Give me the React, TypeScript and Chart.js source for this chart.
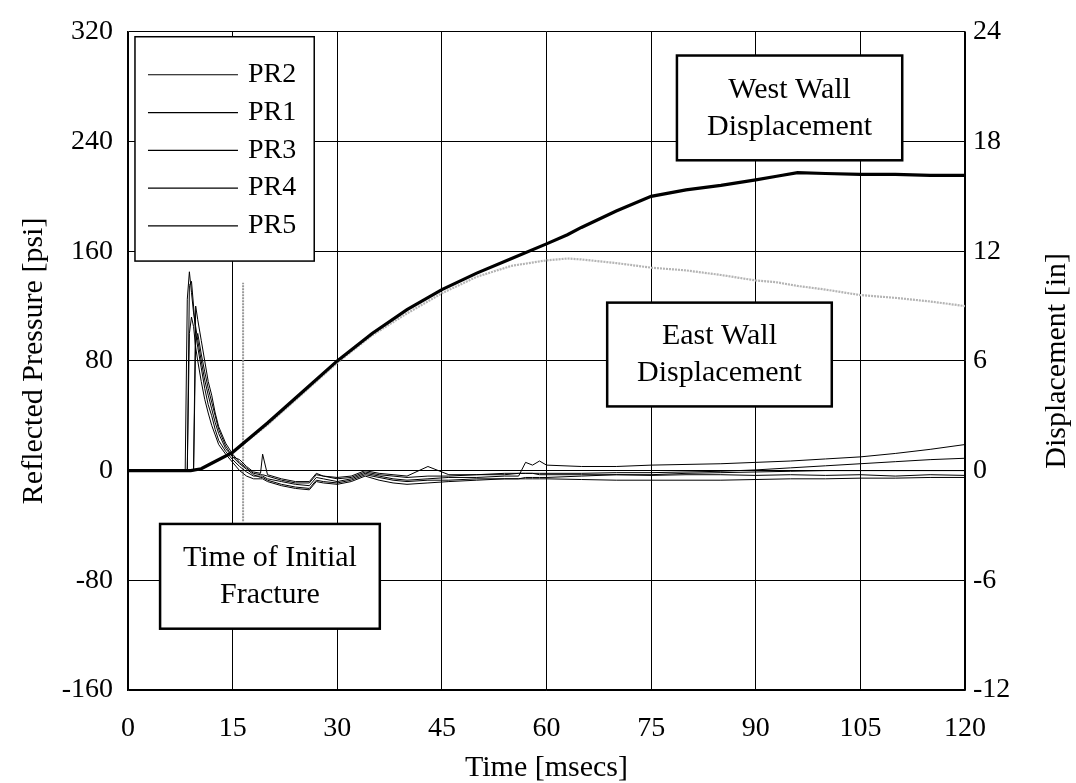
import React, { useEffect, useRef } from 'react';
import { Chart, registerables } from 'chart.js';

Chart.register(...registerables);

const FONT = '"Liberation Serif", "Times New Roman", Times, serif';

// ---- tick labels ----
const timeTicks = [0, 15, 30, 45, 60, 75, 90, 105, 120];
const pressureTicks = [-160, -80, 0, 80, 160, 240, 320];
const dispTicks = [-12, -6, 0, 6, 12, 18, 24];

// ---- pressure gauges (time in msecs, pressure in psi) ----
const timeP = [
  0, 8.2, 8.5, 8.8, 9.1, 9.4, 9.7, 10, 10.5, 11, 11.5, 12, 12.5, 13, 14, 15, 16, 17, 18,
  19, 19.3, 20, 22, 24, 26, 27, 28, 30, 32, 34, 36, 38, 40, 43, 46, 50, 54, 56,
  57, 58, 59, 60, 65, 70, 75, 80, 85, 90, 95, 100, 105, 110, 115, 120,
];
const pr2 = [
  0, 0, 125, 145, 130, 115, 105, 95, 80, 66, 55, 45, 35, 27, 16, 10, 5, 1, -3,
  -5, -5, -7, -10, -12, -13, -7, -8, -9, -7, -3, -5, -7, -8, -7, -7, -6, -6, -6,
  -6, -6, -6, -6, -6.5, -7, -7, -7, -7, -6.5, -6, -6, -5.5, -5.5, -5, -5,
];
const pr1 = [
  0, 0, 0, 135, 138, 120, 100, 90, 75, 60, 48, 40, 30, 22, 14, 8, 3, -1, -4,
  -4, -4, -6, -8, -10, -11, -5, -6, -8, -6, -2, -4, -6, -7, -6, -5, -5, -4, -4,
  6, 4, 7, 4, 3, 3, 4, 4.5, 5, 6, 7, 8.5, 10, 12.5, 15.5, 19,
];
const pr3 = [
  0, 0, 0, 0, 0, 0, 120, 110, 95, 80, 65, 55, 42, 32, 20, 12, 6, 2, -2,
  -3, -3, -4, -7, -9, -9, -3, -4, -6, -5, -1, -3, -4, -5, -4, -4, -3, -3, -2,
  -2, -2, -2, -2, -2, -1.5, -1.5, -1, -0.5, 0.5, 2, 3.5, 5, 6.5, 8, 9,
];
const pr4 = [
  0, 0, 0, 100, 112, 105, 90, 80, 65, 52, 42, 33, 26, 19, 12, 6, 0, -4, -6,
  -6, -6, -8, -11, -13, -14, -8, -9, -10, -8, -4, -7, -9, -10, -9, -8, -7, -6, -6,
  -5, -5, -5, -5, -4, -3, -3, -2, -1.5, -1, -0.5, 0, 0, 0, 0, 0,
];
const pr5 = [
  0, 0, 0, 0, 0, 0, 95, 100, 85, 72, 60, 50, 40, 30, 18, 10, 8, 3, -1,
  -2, 12, -3, -6, -8, -8, -2, -4, -5, -4, 0, -2, -3, -4, 3, -3, -3, -2, -2,
  -2, -2, -3, -3, -3, -3, -3.5, -3, -3, -3.5, -3, -3.5, -3, -4, -3, -3.5,
];

// ---- wall displacements (time in msecs, displacement in inches) ----
const timeD = [0, 9, 10.5, 12, 15, 20, 25, 30, 35, 40, 45, 50, 55, 60, 63, 65, 70, 75, 80, 85, 90, 93, 96, 100, 105, 110, 115, 120];
const westWall = [0, 0, 0.1, 0.4, 1.0, 2.6, 4.3, 6.0, 7.5, 8.8, 9.9, 10.8, 11.6, 12.4, 12.9, 13.3, 14.2, 15.0, 15.35, 15.6, 15.9, 16.1, 16.3, 16.25, 16.2, 16.2, 16.15, 16.15];
const eastWall = [0, 0, 0.1, 0.4, 1.0, 2.5, 4.2, 5.9, 7.4, 8.6, 9.7, 10.6, 11.2, 11.5, 11.6, 11.55, 11.35, 11.1, 10.95, 10.7, 10.4, 10.3, 10.1, 9.9, 9.6, 9.45, 9.25, 9.0];

// ---- time of initial fracture marker ----
const fractureTime = [16.5, 16.5];
const fracturePsi = [-37, 137];

const pts = (xs: number[], ys: number[]) => xs.map((x, i) => ({ x, y: ys[i] }));

// annotation boxes in data coordinates [xMin, xMax, psiTop, psiBottom]
const boxes = [
  { rect: [78.7, 111.0, 302.7, 226.3], lines: ['West Wall', 'Displacement'] },
  { rect: [68.7, 100.9, 122.5, 46.8], lines: ['East Wall', 'Displacement'] },
  { rect: [4.6, 36.1, -38.9, -115.3], lines: ['Time of Initial', 'Fracture'] },
];
const legendRect = [1.0, 26.7, 316.4, 152.8];
const legendOrder = ['PR2', 'PR1', 'PR3', 'PR4', 'PR5'];

const annotPlugin = {
  id: 'annot',
  afterDatasetsDraw(chart: any) {
    const { ctx, scales } = chart;
    const xs = scales.x;
    const ys = scales.y;
    ctx.save();
    // text boxes
    boxes.forEach((b) => {
      const x1 = xs.getPixelForValue(b.rect[0]);
      const x2 = xs.getPixelForValue(b.rect[1]);
      const y1 = ys.getPixelForValue(b.rect[2]);
      const y2 = ys.getPixelForValue(b.rect[3]);
      ctx.fillStyle = '#fff';
      ctx.fillRect(x1, y1, x2 - x1, y2 - y1);
      ctx.strokeStyle = '#000';
      ctx.lineWidth = 2.5;
      ctx.strokeRect(x1, y1, x2 - x1, y2 - y1);
      ctx.fillStyle = '#000';
      ctx.font = `30px ${FONT}`;
      ctx.textAlign = 'center';
      ctx.textBaseline = 'middle';
      const cx = (x1 + x2) / 2;
      const cy = (y1 + y2) / 2;
      ctx.fillText(b.lines[0], cx, cy - 18);
      ctx.fillText(b.lines[1], cx, cy + 19);
    });
    // legend
    const lx1 = xs.getPixelForValue(legendRect[0]);
    const lx2 = xs.getPixelForValue(legendRect[1]);
    const ly1 = ys.getPixelForValue(legendRect[2]);
    const ly2 = ys.getPixelForValue(legendRect[3]);
    ctx.fillStyle = '#fff';
    ctx.fillRect(lx1, ly1, lx2 - lx1, ly2 - ly1);
    ctx.strokeStyle = '#000';
    ctx.lineWidth = 1.5;
    ctx.strokeRect(lx1, ly1, lx2 - lx1, ly2 - ly1);
    ctx.font = `28px ${FONT}`;
    ctx.textAlign = 'left';
    ctx.textBaseline = 'middle';
    legendOrder.forEach((name, i) => {
      const ds = chart.data.datasets.find((d: any) => d.label === name);
      const y = ly1 + 38 + i * 37.8;
      ctx.strokeStyle = ds ? ds.borderColor : '#000';
      ctx.lineWidth = 1.2;
      ctx.beginPath();
      ctx.moveTo(lx1 + 13, y);
      ctx.lineTo(lx1 + 103, y);
      ctx.stroke();
      ctx.fillStyle = '#000';
      ctx.fillText(name, lx1 + 113, y);
    });
    ctx.restore();
  },
  afterDraw(chart: any) {
    const { ctx, chartArea } = chart;
    ctx.save();
    ctx.fillStyle = '#000';
    ctx.font = `30px ${FONT}`;
    ctx.textAlign = 'center';
    ctx.textBaseline = 'middle';
    ctx.translate(1057, (chartArea.top + chartArea.bottom) / 2);
    ctx.rotate(-Math.PI / 2);
    ctx.fillText('Displacement [in]', 0, 0);
    ctx.restore();
  },
};

export default function App() {
  const ref = useRef<HTMLCanvasElement | null>(null);

  useEffect(() => {
    document.body.style.margin = '0';
    const canvas = ref.current;
    if (!canvas) return;
    const thin = (label: string, ys: number[]) => ({
      label,
      data: pts(timeP, ys),
      yAxisID: 'y',
      borderColor: '#000',
      borderWidth: 1,
      pointRadius: 0,
      tension: 0,
      fill: false,
    });
    const tickFont = { family: FONT, size: 28 };
    const chart = new Chart(canvas, {
      type: 'line',
      data: {
        datasets: [
          {
            label: 'West Wall Displacement',
            data: pts(timeD, westWall),
            yAxisID: 'y2',
            borderColor: '#000',
            borderWidth: 3.2,
            pointRadius: 0,
            tension: 0,
            fill: false,
          },
          thin('PR2', pr2),
          thin('PR1', pr1),
          thin('PR3', pr3),
          thin('PR4', pr4),
          thin('PR5', pr5),
          {
            label: 'East Wall Displacement',
            data: pts(timeD, eastWall),
            yAxisID: 'y2',
            borderColor: '#b4b4b4',
            borderWidth: 2.2,
            borderDash: [2, 1],
            pointRadius: 0,
            tension: 0,
            fill: false,
          },
          {
            label: 'Fracture',
            data: pts(fractureTime, fracturePsi),
            yAxisID: 'y',
            borderColor: '#9a9a9a',
            borderWidth: 2,
            borderDash: [2, 1],
            pointRadius: 0,
            fill: false,
          },
        ],
      },
      options: {
        responsive: false,
        animation: false,
        devicePixelRatio: 1,
        layout: { padding: { top: 17, left: 0, right: 0, bottom: 0 } },
        plugins: { legend: { display: false }, tooltip: { enabled: false } },
        scales: {
          x: {
            type: 'linear',
            min: 0,
            max: 120,
            afterBuildTicks: (s: any) => {
              s.ticks = timeTicks.map((v) => ({ value: v }));
            },
            afterFit: (s: any) => {
              s.height = 93;
            },
            ticks: { font: tickFont, color: '#000', padding: 22, autoSkip: false, maxRotation: 0 },
            grid: { color: '#000', lineWidth: 1, drawTicks: false },
            border: { color: '#000', width: 1.5 },
            title: {
              display: true,
              text: 'Time [msecs]',
              color: '#000',
              font: { family: FONT, size: 30 },
              padding: { top: 0, bottom: -3 },
            },
          },
          y: {
            type: 'linear',
            position: 'left',
            min: -160,
            max: 320,
            afterBuildTicks: (s: any) => {
              s.ticks = pressureTicks.map((v) => ({ value: v }));
            },
            afterFit: (s: any) => {
              s.width = 128;
            },
            ticks: { font: tickFont, color: '#000', padding: 15, autoSkip: false },
            grid: { color: '#000', lineWidth: 1, drawTicks: false },
            border: { color: '#000', width: 1.5 },
            title: {
              display: true,
              text: 'Reflected Pressure [psi]',
              color: '#000',
              font: { family: FONT, size: 30 },
              padding: { top: 16, bottom: 0 },
            },
          },
          y2: {
            type: 'linear',
            position: 'right',
            min: -12,
            max: 24,
            afterBuildTicks: (s: any) => {
              s.ticks = dispTicks.map((v) => ({ value: v }));
            },
            afterFit: (s: any) => {
              s.width = 111;
            },
            ticks: { font: tickFont, color: '#000', padding: 8, autoSkip: false },
            grid: { drawOnChartArea: false, drawTicks: false },
            border: { color: '#000', width: 1.5 },
          },
        },
      },
      plugins: [annotPlugin],
    } as any);
    return () => chart.destroy();
  }, []);

  return (
    <div style={{ width: 1076, height: 783, background: '#fff' }}>
      <canvas ref={ref} width={1076} height={783} style={{ display: 'block' }} />
    </div>
  );
}
